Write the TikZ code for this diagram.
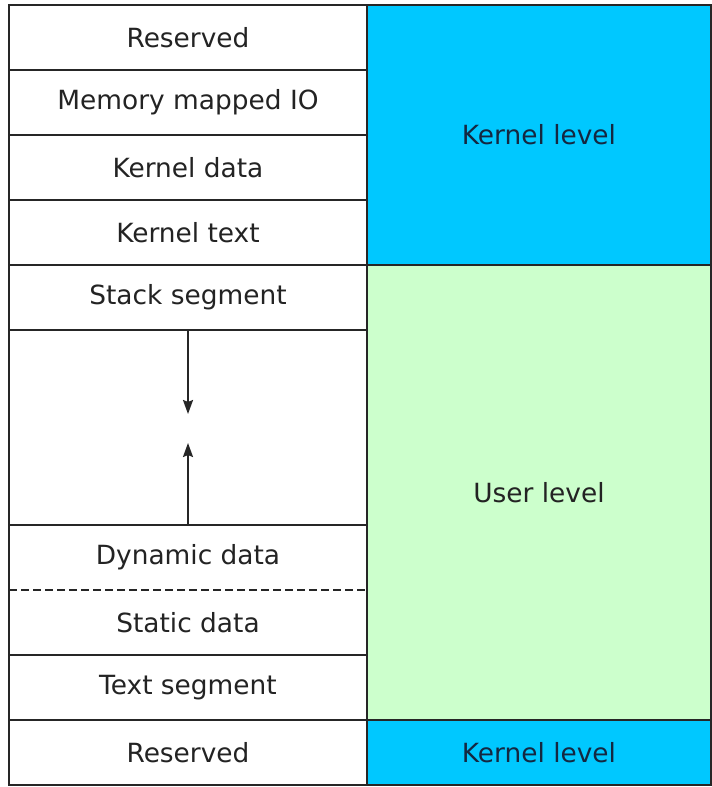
\documentclass[tikz,border=0pt]{standalone}
\usepackage{fontspec}
\setmainfont{DejaVu Sans}
\usetikzlibrary{arrows.meta}
\definecolor{kcyan}{RGB}{0,200,255}
\definecolor{ugreen}{RGB}{204,255,204}
\definecolor{ktext}{RGB}{20,40,65}
\definecolor{ltext}{RGB}{35,35,35}
\begin{document}
\begin{tikzpicture}[x=1bp,y=-1bp,
  lcell/.style={minimum width=358bp, minimum height=65bp, inner sep=0pt, outer sep=0pt, anchor=north west,
    font=\fontsize{26.5}{30}\selectfont, text=ltext},
  rcell/.style={minimum width=344bp, inner sep=0pt, outer sep=0pt, anchor=north west,
    font=\fontsize{26.5}{30}\selectfont},
  frame/.style={draw=black!85, line width=2bp},
  growarrow/.style={draw=black!85, line width=2bp, -{Stealth[length=14bp,width=10bp,inset=2bp]}}]
\useasboundingbox (0,0) rectangle (712,787);
\fill[white] (0,0) rectangle (712,787);
% right column
\node[rcell, minimum height=260bp, fill=kcyan, text=ktext, frame] (kl) at (367,5) {Kernel level};
\node[rcell, minimum height=455bp, fill=ugreen, text=ltext, frame] (ul) at (367,265) {User level};
\node[rcell, minimum height=65bp, fill=kcyan, text=ktext, frame] (kb) at (367,720) {Kernel level};
% left column
\node[lcell, frame] (r1) at (9,5) {Reserved};
\node[lcell, frame] (mm) at (9,70) {Memory mapped IO};
\node[lcell, frame] (kd) at (9,135) {Kernel data};
\node[lcell, frame] (kt) at (9,200) {Kernel text};
\node[lcell, frame] (ss) at (9,265) {Stack segment};
\node[lcell, frame, minimum height=195bp] (gap) at (9,330) {};
\node[lcell] (dd) at (9,525) {Dynamic data};
\node[lcell] (sd) at (9,590) {Static data};
\node[lcell, frame] (ts) at (9,655) {Text segment};
\node[lcell, frame] (rb) at (9,720) {Reserved};
\draw[frame] (dd.north west) rectangle (sd.south east);
\draw[draw=black!85, line width=1.6bp, dash pattern=on 8bp off 4bp] (dd.south west) -- (dd.south east);
% growth arrows
\coordinate (dtip) at ([yshift=-84bp]ss.south);
\coordinate (utip) at ([yshift=82bp]dd.north);
\draw[growarrow] (ss.south) -- (dtip);
\draw[growarrow] (dd.north) -- (utip);
\end{tikzpicture}
\end{document}
